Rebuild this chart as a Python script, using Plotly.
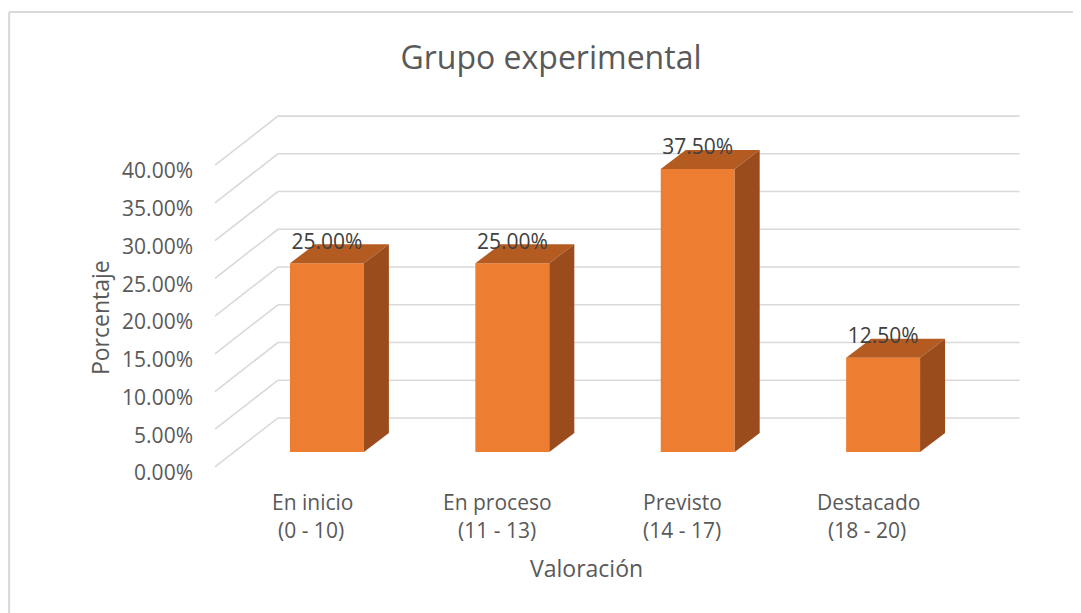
import plotly.graph_objects as go

# ---------------- data ----------------
categories = ["En inicio", "En proceso", "Previsto", "Destacado"]
ranges = ["(0 - 10)", "(11 - 13)", "(14 - 17)", "(18 - 20)"]
values = [25.0, 25.0, 37.5, 12.5]
y_ticks = [0, 5, 10, 15, 20, 25, 30, 35, 40]

title_text = "Grupo experimental"
x_title = "Valoración"
y_title = "Porcentaje"

# ---------------- style / geometry ----------------
FONT = "Open Sans"
TXT = "#595959"
LBL = "#404040"
GRID = "#d9d9d9"
FRONT = "#ED7D31"
TOP = "#B45B22"
SIDE = "#9A4C1C"

OFF = 8  # page body margin
W, H = 1081, 613
ML, MR, MT, MB = 204, 64.5, 105, 151
X_RANGE = [-0.62, 3.76]
Y_RANGE = [-0.4, 46.9]

PW = W - ML - MR
PH = H - MT - MB
PX_X = PW / (X_RANGE[1] - X_RANGE[0])
PX_Y = PH / (Y_RANGE[1] - Y_RANGE[0])


def px2paper_x(px):
    return (px - OFF - ML) / PW


def px2paper_y(py):
    return ((H - MB) - (py - OFF)) / PH


FLOOR_LEFT = -0.604          # front-left corner of the floor
WALL_RIGHT = 3.736           # right end of back wall
WALL_DX = 63 / PX_X          # floor depth (x)
WALL_DY = 49 / PX_Y          # floor depth (y)
BAR_W = 74 / PX_X
DEPTH_DX = 25 / PX_X
DEPTH_DY = 19 / PX_Y
BAR_BASE = 15 / PX_Y

xs = list(range(len(categories)))

fig = go.Figure()

# front faces
fig.add_trace(go.Bar(
    x=xs, y=values, base=BAR_BASE, width=BAR_W,
    marker=dict(color=FRONT, line=dict(width=0)),
    hoverinfo="skip", showlegend=False,
))

# top and side faces
for x, v in zip(xs, values):
    xl, xr = x - BAR_W / 2, x + BAR_W / 2
    yb, yt = BAR_BASE, BAR_BASE + v
    fig.add_trace(go.Scatter(
        x=[xl, xr, xr + DEPTH_DX, xl + DEPTH_DX, xl],
        y=[yt, yt, yt + DEPTH_DY, yt + DEPTH_DY, yt],
        fill="toself", fillcolor=TOP, mode="lines",
        line=dict(width=0, color=TOP), hoverinfo="skip", showlegend=False,
    ))
    fig.add_trace(go.Scatter(
        x=[xr, xr + DEPTH_DX, xr + DEPTH_DX, xr, xr],
        y=[yb, yb + DEPTH_DY, yt + DEPTH_DY, yt, yb],
        fill="toself", fillcolor=SIDE, mode="lines",
        line=dict(width=0, color=SIDE), hoverinfo="skip", showlegend=False,
    ))

# data labels
fig.add_trace(go.Scatter(
    x=xs, y=[BAR_BASE + v + DEPTH_DY + 0.1 for v in values],
    mode="text", text=[f"{v:.2f}%" for v in values],
    textposition="middle center",
    textfont=dict(family=FONT, size=21, color=LBL),
    hoverinfo="skip", showlegend=False, cliponaxis=False,
))

# gridlines (floor slant + back wall)
shapes = []
for t in y_ticks:
    shapes.append(dict(
        type="path", xref="x", yref="y", layer="below",
        path=(f"M {FLOOR_LEFT},{t} L {FLOOR_LEFT + WALL_DX},{t + WALL_DY} "
              f"L {WALL_RIGHT},{t + WALL_DY}"),
        line=dict(color=GRID, width=1.6),
    ))

# outer chart border (left and top edges visible)
bx = px2paper_x(9)
by = px2paper_y(12)
shapes.append(dict(type="line", xref="paper", yref="paper",
                   x0=bx, x1=bx, y0=by, y1=-1, line=dict(color=GRID, width=2)))
shapes.append(dict(type="line", xref="paper", yref="paper",
                   x0=bx, x1=2, y0=by, y1=by, line=dict(color=GRID, width=2)))

annotations = []
# category labels (two lines)
for x, name, rng in zip(xs, categories, ranges):
    annotations.append(dict(x=x - 0.08, y=px2paper_y(502), xref="x", yref="paper",
                            xanchor="center", yanchor="middle",
                            text=name, showarrow=False,
                            font=dict(family=FONT, size=21, color=TXT)))
    annotations.append(dict(x=x - 0.085, y=px2paper_y(530), xref="x", yref="paper",
                            xanchor="center", yanchor="middle",
                            text=rng, showarrow=False,
                            font=dict(family=FONT, size=21, color=TXT)))

# axis titles
annotations.append(dict(x=px2paper_x(587), y=px2paper_y(568),
                        xref="paper", yref="paper", text=x_title, showarrow=False,
                        xanchor="center", yanchor="middle",
                        font=dict(family=FONT, size=23, color=TXT)))
annotations.append(dict(x=px2paper_x(100), y=px2paper_y(318),
                        xref="paper", yref="paper", text=y_title, showarrow=False,
                        xanchor="center", yanchor="middle", textangle=-90,
                        font=dict(family=FONT, size=23, color=TXT)))

fig.update_layout(
    width=W, height=H,
    margin=dict(l=ML, r=MR, t=MT, b=MB),
    paper_bgcolor="white", plot_bgcolor="white",
    title=dict(text=title_text, x=(551 - OFF) / W, y=1 - (58 - OFF) / H,
               xanchor="center", yanchor="middle",
               font=dict(family=FONT, size=32, color=TXT)),
    xaxis=dict(range=X_RANGE, showgrid=False, zeroline=False, showline=False,
               showticklabels=False, ticks="", fixedrange=True),
    yaxis=dict(range=Y_RANGE, showgrid=False, zeroline=False, showline=False,
               tickvals=y_ticks, ticktext=[f"{t:.2f}%" for t in y_ticks],
               ticks="", ticklabelstandoff=18, ticklabelshift=6,
               tickfont=dict(family=FONT, size=21, color=TXT), fixedrange=True),
    shapes=shapes,
    annotations=annotations,
    font=dict(family=FONT, color=TXT),
)

fig.write_html("out.html")
